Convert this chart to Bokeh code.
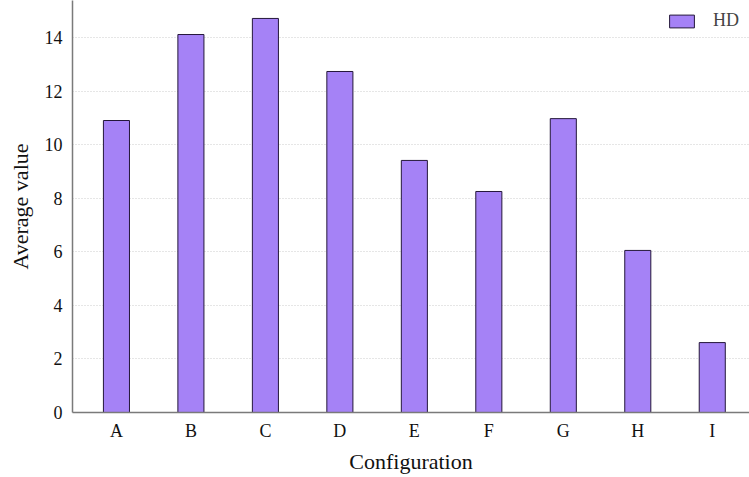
from bokeh.plotting import figure
from bokeh.models import ColumnDataSource, Range1d, FixedTicker, Legend, LegendItem
from bokeh.embed import file_html
from bokeh.resources import INLINE

# Average value per configuration
categories = ["A", "B", "C", "D", "E", "F", "G", "H", "I"]
hd_values = [10.9, 14.11, 14.71, 12.73, 9.41, 8.25, 10.97, 6.05, 2.61]
y_ticks = [0, 2, 4, 6, 8, 10, 12, 14]

positions = list(range(len(categories)))
source = ColumnDataSource(data=dict(x=positions, top=hd_values, cat=categories))

FONT = "Liberation Serif"

p = figure(width=749, height=477, output_backend="svg", toolbar_location=None,
           x_range=Range1d(-0.59, 8.5), y_range=Range1d(0, 15.38),
           min_border_left=72, min_border_right=0, min_border_top=0,
           min_border_bottom=65)
p.outline_line_color = None

bars = p.vbar(x="x", top="top", width=0.35, bottom=0, source=source,
              fill_color="#a582f6", line_color="#24173a", line_width=1)

# Axes
p.xaxis.ticker = FixedTicker(ticks=positions)
p.xaxis.major_label_overrides = {i: c for i, c in enumerate(categories)}
p.yaxis.ticker = FixedTicker(ticks=y_ticks)
for ax in (p.xaxis[0], p.yaxis[0]):
    ax.major_label_text_font = FONT
    ax.major_label_text_font_size = "18px"
    ax.major_label_text_color = "#111111"
    ax.axis_label_text_font = FONT
    ax.axis_label_text_font_size = "22px"
    ax.axis_label_text_font_style = "normal"
    ax.axis_label_text_color = "#111111"
    ax.axis_line_color = "#7a7a7a"
    ax.axis_line_width = 1.5
    ax.major_tick_line_color = None
    ax.minor_tick_line_color = None
p.xaxis.axis_label = "Configuration"
p.yaxis.axis_label = "Average value"
p.xaxis.major_label_standoff = 2
p.xaxis.axis_label_standoff = 5
p.yaxis.major_label_standoff = 4
p.yaxis.axis_label_standoff = 9

# Grid
p.xgrid.grid_line_color = None
p.ygrid.grid_line_color = "#cccccc"
p.ygrid.grid_line_dash = "1 2"
p.ygrid.grid_line_width = 1

legend = Legend(items=[LegendItem(label="HD", renderers=[bars])],
                location="top_right", border_line_color=None,
                background_fill_alpha=0, label_text_font=FONT,
                label_text_font_size="18px", glyph_width=31, glyph_height=16,
                label_standoff=16, margin=10, padding=4)
p.add_layout(legend)

open("out.html", "w").write(file_html(p, INLINE))
